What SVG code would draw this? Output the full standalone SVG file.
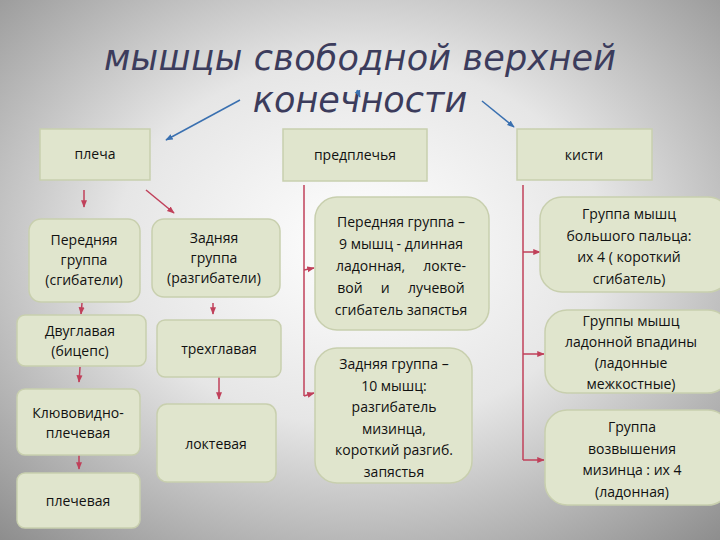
<svg xmlns="http://www.w3.org/2000/svg" width="720" height="540" viewBox="0 0 720 540">
<defs>
<radialGradient id="bg" cx="0.5" cy="0.45" r="0.75">
<stop offset="0" stop-color="#ffffff"/><stop offset="0.45" stop-color="#e6e6e6"/><stop offset="1" stop-color="#8c8c8c"/>
</radialGradient>
<marker id="ar" viewBox="0 0 10 10" refX="9" refY="5" markerWidth="5" markerHeight="5" orient="auto"><path d="M0,1 L10,5 L0,9 z" fill="#c0405a"/></marker>
<marker id="ab" viewBox="0 0 10 10" refX="9" refY="5" markerWidth="5" markerHeight="5" orient="auto"><path d="M0,1 L10,5 L0,9 z" fill="#3a70b0"/></marker>
<style>
.b{fill:#e0e5cd;stroke:#c8cfae;stroke-width:1.5}
.t{font-family:"Open Sans","DejaVu Sans",sans-serif;font-size:14px;fill:#111;text-anchor:middle;white-space:pre}
.r{stroke:#c0405a;stroke-width:1.5;fill:none}
.bl{stroke:#3a70b0;stroke-width:1.5;fill:none}
</style>
</defs>
<rect width="720" height="540" fill="url(#bg)"/>
<g id="title" font-family="'DejaVu Sans',sans-serif" font-style="italic" font-size="35" fill="#3c3c5c" text-anchor="middle">
<text x="360" y="70" textLength="512">мышцы свободной верхней</text>
<text x="360" y="112">конечности</text>
</g>
<g id="connectors">
<path class="bl" d="M240,100 L166,140" marker-end="url(#ab)"/>
<path class="bl" d="M357,90 L360,97" marker-end="url(#ab)"/>
<path class="bl" d="M482,101 L514,127" marker-end="url(#ab)"/>
<path class="r" d="M84,190 L84,207" marker-end="url(#ar)"/>
<path class="r" d="M146,190 L174,213" marker-end="url(#ar)"/>
<path class="r" d="M82,303 L81,314" marker-end="url(#ar)"/>
<path class="r" d="M80,367 L79,382" marker-end="url(#ar)"/>
<path class="r" d="M79,455 L79,469" marker-end="url(#ar)"/>
<path class="r" d="M213,303 L213,314" marker-end="url(#ar)"/>
<path class="r" d="M219,377 L219,399" marker-end="url(#ar)"/>
<path class="r" d="M304,185 L304,396"/>
<path class="r" d="M304,270 L314,268" marker-end="url(#ar)"/>
<path class="r" d="M304,396 L314,393" marker-end="url(#ar)"/>
<path class="r" d="M523,185 L523,460"/>
<path class="r" d="M523,252 L540,252" marker-end="url(#ar)"/>
<path class="r" d="M523,354 L544,354" marker-end="url(#ar)"/>
<path class="r" d="M523,460 L544,460" marker-end="url(#ar)"/>
</g>
<g id="n-plecha"><rect class="b" x="40" y="129" width="110" height="51"/><text class="t" x="95" y="159">плеча</text></g>
<g id="n-predpl"><rect class="b" x="283" y="129" width="144" height="52"/><text class="t" x="355" y="160">предплечья</text></g>
<g id="n-kisti"><rect class="b" x="517" y="129" width="135" height="51"/><text class="t" x="584" y="160">кисти</text></g>
<g id="n-pg"><rect class="b" x="29" y="219" width="111" height="83" rx="12"/><text class="t" x="84" y="245">Передняя<tspan x="84" dy="20">группа</tspan><tspan x="84" dy="20">(сгибатели)</tspan></text></g>
<g id="n-zg"><rect class="b" x="152" y="219" width="128" height="78" rx="12"/><text class="t" x="214" y="243">Задняя<tspan x="214" dy="20">группа</tspan><tspan x="214" dy="20">(разгибатели)</tspan></text></g>
<g id="n-dv"><rect class="b" x="17" y="315" width="129" height="51" rx="8"/><text class="t" x="80" y="336">Двуглавая<tspan x="80" dy="20">(бицепс)</tspan></text></g>
<g id="n-tr"><rect class="b" x="157" y="320" width="124" height="57" rx="8"/><text class="t" x="219" y="354">трехглавая</text></g>
<g id="n-kl"><rect class="b" x="17" y="389" width="123" height="66" rx="8"/><text class="t" x="78" y="418">Клювовидно-<tspan x="78" dy="20">плечевая</tspan></text></g>
<g id="n-lk"><rect class="b" x="157" y="404" width="119" height="78" rx="10"/><text class="t" x="216" y="449">локтевая</text></g>
<g id="n-pl"><rect class="b" x="17" y="473" width="123" height="55" rx="8"/><text class="t" x="78" y="506">плечевая</text></g>
<g id="n-fpg"><rect class="b" x="315" y="197" width="174" height="133" rx="22"/><text class="t" x="401" y="227" font-size="14.5">Передняя группа –<tspan x="401" dy="22">9 мышц - длинная</tspan><tspan x="401" dy="22">ладонная,     локте-</tspan><tspan x="401" dy="22">вой     и     лучевой</tspan><tspan x="401" dy="22">сгибатель запястья</tspan></text></g>
<g id="n-fzg"><rect class="b" x="315" y="348" width="157" height="135" rx="22"/><text class="t" x="394" y="369" font-size="14.5">Задняя группа –<tspan x="394" dy="21.5">10 мышц:</tspan><tspan x="394" dy="21.5">разгибатель</tspan><tspan x="394" dy="21.5">мизинца,</tspan><tspan x="394" dy="21.5">короткий разгиб.</tspan><tspan x="394" dy="21.5">запястья</tspan></text></g>
<g id="n-h1"><rect class="b" x="540" y="197" width="190" height="95" rx="22"/><text class="t" x="629" y="219" font-size="14.5">Группа мышц<tspan x="629" dy="21.5">большого пальца:</tspan><tspan x="629" dy="21.5">их 4 ( короткий</tspan><tspan x="629" dy="21.5">сгибатель)</tspan></text></g>
<g id="n-h2"><rect class="b" x="545" y="310" width="185" height="83" rx="22"/><text class="t" x="631" y="326" font-size="14.5">Группы мышц<tspan x="631" dy="21">ладонной впадины</tspan><tspan x="631" dy="21">(ладонные</tspan><tspan x="631" dy="21">межкостные)</tspan></text></g>
<g id="n-h3"><rect class="b" x="545" y="410" width="185" height="95" rx="22"/><text class="t" x="632" y="432" font-size="14.5">Группа<tspan x="632" dy="21.5">возвышения</tspan><tspan x="632" dy="21.5">мизинца : их 4</tspan><tspan x="632" dy="21.5">(ладонная)</tspan></text></g>
</svg>
